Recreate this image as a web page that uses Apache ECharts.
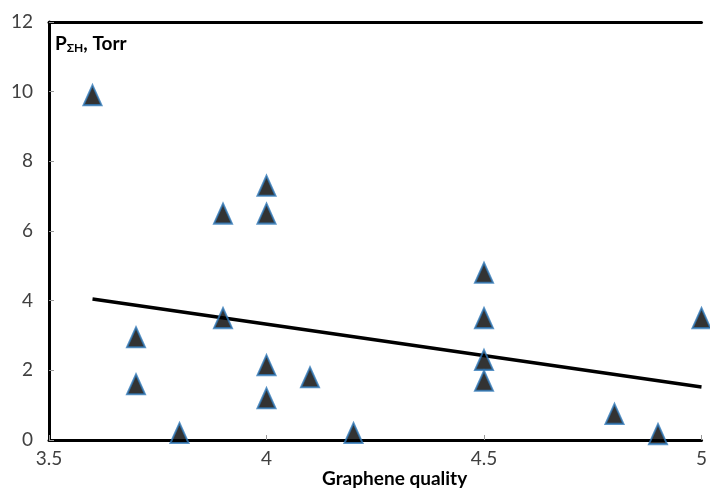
<!DOCTYPE html>
<html>
<head>
<meta charset="utf-8">
<script src="https://cdn.jsdelivr.net/npm/echarts@6/dist/echarts.min.js"></script>
<style>
  html, body { margin: 0; padding: 0; background: #fff; }
  #main { width: 710px; height: 493px; }
</style>
</head>
<body>
<div id="main"></div>
<script>
// graphene quality vs pressure
var quality = [3.6, 3.7, 3.7, 3.8, 3.9, 3.9, 4.0, 4.0, 4.0, 4.0, 4.1, 4.2, 4.5, 4.5, 4.5, 4.5, 4.8, 4.9, 5.0];
var pressure = [9.9, 2.95, 1.6, 0.2, 6.5, 3.5, 7.3, 6.5, 2.15, 1.2, 1.8, 0.2, 4.8, 3.5, 2.3, 1.7, 0.75, 0.17, 3.5];
// linear trend end points
var trendX = [3.6, 5.0];
var trendY = [4.05, 1.52];

var points = quality.map(function (q, i) { return [q, pressure[i]]; });
var trend = trendX.map(function (q, i) { return [q, trendY[i]]; });

var chart = echarts.init(document.getElementById('main'));
var font = 'Lato';
chart.setOption({
  animation: false,
  grid: { left: 49, right: 4, top: 22, bottom: 53 },
  xAxis: [{
    type: 'value',
    min: 3.5, max: 5, interval: 0.5,
    axisLine: { lineStyle: { color: '#000', width: 3 } },
    axisTick: { inside: true, length: 5, lineStyle: { color: '#999' } },
    axisLabel: { color: '#404040', fontSize: 19, fontFamily: font, margin: 9 },
    splitLine: { show: false }
  }, {
    type: 'value', position: 'top',
    min: 3.5, max: 5,
    axisLine: { show: true, lineStyle: { color: '#000', width: 3 } },
    axisTick: { show: false }, axisLabel: { show: false }, splitLine: { show: false }
  }],
  yAxis: {
    type: 'value',
    min: 0, max: 12, interval: 2,
    axisLine: { show: true, lineStyle: { color: '#000', width: 3 } },
    axisTick: { show: true, inside: true, length: 5, lineStyle: { color: '#999' } },
    axisLabel: { color: '#404040', fontSize: 19, fontFamily: font, margin: 16 },
    splitLine: { show: false }
  },
  graphic: [{
    type: 'text', left: 55, top: 34,
    style: {
      text: '{p|P}{s|ΣH}{p|, Torr}',
      rich: {
        p: { fontSize: 19, fontWeight: 'bold', fontFamily: font, fill: '#000' },
        s: { fontSize: 12, fontWeight: 'bold', fontFamily: font, fill: '#000', padding: [10, 0, 0, 0] }
      }
    }
  }, {
    type: 'text', left: 322, top: 469,
    style: { text: 'Graphene quality', fontSize: 19, fontWeight: 'bold', fontFamily: font, fill: '#000' }
  }],
  series: [{
    type: 'line',
    data: trend,
    symbol: 'none',
    lineStyle: { color: '#000', width: 3.5 },
    z: 1
  }, {
    type: 'scatter',
    data: points,
    symbol: 'triangle',
    symbolSize: [18, 20],
    itemStyle: { color: '#000', borderColor: '#2f78b8', borderWidth: 2 },
    z: 3
  }]
});
</script>
</body>
</html>
